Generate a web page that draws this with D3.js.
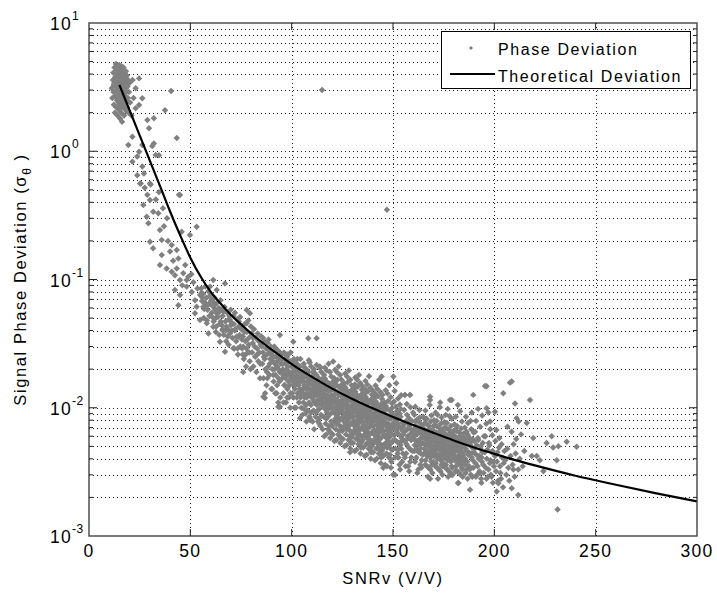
<!DOCTYPE html>
<html><head><meta charset="utf-8">
<script src="https://cdn.jsdelivr.net/npm/d3@7"></script>
<style>body{margin:0;background:#fff}text{font-family:Arial,"Liberation Sans",Helvetica,sans-serif;fill:#000}</style>
</head><body><svg id="chart" width="717" height="594"></svg>
<script>
// ---------- axes / labels ----------
const xTicks=[0,50,100,150,200,250,300];
const yDecades=[1e-3,1e-2,1e-1,1,10];
const yExponents=["-3","-2","-1","0","1"];
const xTitle="SNRv (V/V)";
const yTitleMain="Signal Phase Deviation (σ";
const yTitleSub="θ";
const legendNames=["Phase Deviation","Theoretical Deviation"];

// ---------- theoretical deviation curve ----------
const theorySnr=[15,20,25,30,35,40,45,50,55,60,65,70,75,80,85,90,100,110,120,130,140,150,160,170,180,190,200,210,220,240,260,280,300];
const theoryDev=[3.29,2.09,1.33,0.845,0.537,0.339,0.221,0.148,0.106,0.0803,0.0646,0.0531,0.0447,0.038,0.0327,0.0285,0.0219,0.0174,0.0141,0.0117,0.00989,0.00847,0.00733,0.00637,0.00556,0.0049,0.00437,0.00392,0.00355,0.00295,0.00251,0.00215,0.00186];

// ---------- measured phase deviation (SNR, sigma) ----------
const clusterPts=[[11.2,3.1],[11.5,2.6],[11.8,3.6],[12.0,4.1],[12.1,2.9],[12.3,2.3],[12.5,3.4],[12.6,4.5],[12.8,2.0],[13.0,3.8],[13.1,2.7],[13.3,4.8],[13.4,3.2],[13.5,2.2],[13.7,4.3],[13.8,2.5],[14.0,3.5],[14.1,1.9],[14.2,2.9],[14.3,4.0],[14.5,3.2],[14.6,2.4],[14.7,4.6],[14.8,2.1],[14.9,3.7],[15.0,2.7],[15.1,4.2],[15.2,3.0],[15.3,1.8],[15.4,2.3],[15.5,3.9],[15.6,3.4],[15.7,2.6],[15.8,4.4],[15.9,2.0],[16.0,3.1],[16.1,3.6],[16.2,2.8],[16.3,1.7],[16.4,4.1],[16.5,2.4],[16.6,3.3],[16.7,2.2],[16.8,3.8],[16.9,2.9],[17.0,4.5],[17.1,2.6],[17.2,3.5],[17.3,1.9],[17.4,3.0],[17.5,4.0],[17.6,2.3],[17.7,3.3],[17.8,2.7],[17.9,3.7],[18.0,2.1],[18.1,3.1],[18.2,4.2],[18.3,2.5],[18.4,3.4],[18.5,2.9],[18.7,3.9],[18.8,2.2],[19.0,3.2],[19.2,2.6],[19.3,3.6],[19.5,2.0],[19.7,2.9],[20.0,3.4],[20.3,2.4],[12.2,3.3],[13.6,3.0],[14.4,2.6],[15.2,3.5],[16.6,2.5],[17.4,2.8],[14.9,4.7],[16.0,4.6],[13.9,4.4],[12.9,3.5],[15.6,2.2],[17.9,2.4],[21.5,3.6],[23.0,3.1],[24.7,3.7],[22.0,2.6],[23.0,2.16],[21.0,1.9]];
const transitionPts=[[19.4,1.12],[21.4,1.30],[21.4,0.83],[23.8,0.91],[23.8,0.65],[24.7,2.29],[24.7,0.99],[25.5,0.56],[25.2,0.56],[26.3,2.59],[26.3,1.12],[26.3,0.76],[26.8,0.381],[27.1,0.67],[28.5,0.309],[28.8,1.75],[28.8,0.457],[29.3,0.274],[29.6,1.51],[30.1,0.56],[30.1,0.417],[30.1,0.197],[30.4,0.55],[31.2,1.10],[31.6,0.175],[31.7,0.338],[32,1.81],[32,1.15],[32.9,0.935],[34.2,0.328],[34.5,0.48],[34.5,0.93],[35,0.243],[35,0.13],[35.9,0.203],[35.9,0.155],[37.5,2.09],[38.3,0.122],[40,0.165],[40.5,2.95],[40.8,0.186],[40.8,0.115],[42.4,0.108],[42.4,0.083],[43.3,1.27],[43.3,0.17],[43.3,0.122],[44.1,0.146],[44.1,0.063],[44.4,0.457],[44.9,0.456],[44.9,0.099],[44.9,0.0757],[45.7,0.236],[46.5,0.112],[48.2,0.099],[48.2,0.088],[49,0.105],[49.8,0.222],[50.7,0.080],[52.3,0.069],[52.3,0.0545],[53.1,0.258],[53.1,0.0614],[54.8,0.0757],[54.8,0.0483],[56.4,0.0614],[58.1,0.0455],[58.9,0.038],[59.7,0.088],[61.3,0.099],[61.3,0.0429],[63,0.083],[63,0.0545],[64.6,0.0327],[66.3,0.0561],[67.1,0.093],[67.1,0.0273],[67.9,0.0429],[69.6,0.0483],[71.2,0.0291],[73.7,0.0358],[76.1,0.0299],[77,0.0258],[77.8,0.0578],[77.8,0.0455],[41.5,0.14],[39,0.2],[37,0.26],[38.5,0.3],[46,0.09],[47.5,0.13],[50.5,0.11],[51.5,0.095],[53.5,0.085],[56,0.072],[57,0.066],[58.5,0.058],[60.5,0.07],[62,0.063],[62.5,0.05],[65,0.047],[66,0.04],[68.5,0.036],[70,0.044],[72,0.04],[74,0.047],[75.5,0.034],[36.5,0.36],[33,0.42],[27.5,0.52]];
const body55to80=[[55.3,0.085],[55.8,0.068],[56.3,0.077],[56.9,0.059],[57.4,0.088],[57.9,0.072],[58.4,0.063],[58.9,0.081],[59.4,0.052],[59.8,0.075],[60.2,0.068],[60.6,0.055],[61.0,0.062],[61.5,0.047],[61.9,0.072],[62.3,0.058],[62.8,0.043],[63.2,0.066],[63.6,0.051],[64.1,0.060],[64.5,0.045],[64.9,0.069],[65.2,0.058],[65.6,0.044],[66.0,0.052],[66.5,0.037],[66.9,0.061],[67.3,0.047],[67.7,0.033],[68.2,0.055],[68.6,0.041],[69.0,0.049],[69.5,0.038],[69.9,0.058],[70.3,0.046],[70.8,0.035],[71.3,0.052],[71.7,0.029],[72.2,0.041],[72.6,0.033],[73.1,0.049],[73.5,0.026],[73.9,0.043],[74.3,0.037],[74.7,0.030],[72.0,0.055],[75.2,0.041],[75.6,0.029],[76.0,0.036],[76.4,0.024],[76.8,0.045],[77.2,0.033],[77.5,0.021],[77.9,0.039],[78.3,0.027],[78.6,0.048],[78.9,0.031],[79.3,0.023],[79.6,0.036],[79.9,0.043],[76.1,0.019],[55.6,0.079],[56.6,0.05],[57.2,0.066],[58.2,0.048],[59.1,0.064],[60.8,0.051],[61.7,0.066],[62.6,0.039],[63.9,0.055],[64.3,0.037],[65.9,0.041],[66.7,0.057],[67.5,0.04],[68.9,0.031],[69.3,0.052],[70.6,0.04],[71.5,0.045],[72.9,0.036],[73.3,0.029],[74.5,0.051],[75.9,0.026],[76.6,0.039],[77.7,0.029],[78.1,0.034],[79.1,0.027],[79.7,0.02]];
const body80to105=[[80.2,0.038],[80.5,0.027],[80.8,0.032],[81.1,0.021],[81.4,0.041],[81.7,0.030],[82.0,0.025],[82.3,0.035],[82.6,0.019],[82.9,0.029],[83.2,0.038],[83.5,0.023],[83.8,0.033],[84.1,0.027],[84.4,0.017],[84.7,0.031],[85.0,0.036],[81.0,0.035],[83.0,0.026],[84.5,0.022],[85.2,0.030],[85.5,0.022],[85.8,0.027],[86.1,0.017],[86.4,0.033],[86.7,0.024],[87.0,0.020],[87.3,0.029],[87.6,0.015],[87.9,0.026],[88.2,0.032],[88.5,0.021],[88.8,0.028],[89.1,0.018],[89.4,0.024],[89.7,0.030],[90.0,0.014],[85.9,0.035],[86.9,0.013],[87.8,0.019],[88.6,0.034],[89.2,0.022],[89.9,0.026],[86.3,0.025],[88.0,0.017],[90.2,0.027],[90.5,0.020],[90.8,0.023],[91.1,0.016],[91.4,0.030],[91.7,0.022],[92.0,0.018],[92.3,0.025],[92.6,0.013],[92.9,0.021],[93.2,0.028],[93.5,0.017],[93.8,0.024],[94.1,0.019],[94.4,0.012],[94.7,0.022],[95.0,0.026],[90.4,0.014],[91.3,0.025],[92.1,0.029],[92.8,0.015],[93.6,0.020],[94.3,0.027],[90.9,0.018],[91.9,0.013],[93.0,0.023],[94.0,0.016],[94.9,0.019],[91.6,0.020],[93.4,0.011],[95.2,0.024],[95.4,0.017],[95.7,0.020],[95.9,0.013],[96.2,0.027],[96.4,0.019],[96.7,0.015],[96.9,0.022],[97.2,0.011],[97.4,0.018],[97.7,0.025],[97.9,0.014],[98.2,0.021],[98.4,0.016],[98.7,0.012],[98.9,0.019],[99.2,0.023],[99.4,0.013],[99.7,0.017],[99.9,0.021],[95.5,0.022],[96.0,0.011],[96.6,0.024],[97.0,0.017],[97.5,0.020],[98.0,0.026],[98.5,0.023],[99.0,0.015],[99.5,0.027],[96.3,0.015],[97.8,0.012],[99.3,0.010],[95.8,0.018],[98.8,0.018],[97.1,0.026],[100.1,0.021],[100.4,0.016],[100.6,0.019],[100.9,0.012],[101.1,0.024],[101.4,0.017],[101.6,0.014],[101.9,0.020],[102.1,0.010],[102.4,0.016],[102.6,0.022],[102.9,0.013],[103.1,0.018],[103.4,0.015],[103.6,0.011],[103.9,0.017],[104.1,0.021],[104.4,0.012],[104.6,0.016],[104.9,0.019],[100.3,0.013],[100.8,0.023],[101.3,0.010],[101.8,0.015],[102.3,0.019],[102.8,0.024],[103.3,0.021],[103.8,0.013],[104.3,0.024],[104.8,0.010],[100.5,0.018],[101.0,0.015],[101.5,0.021],[102.0,0.017],[102.5,0.012],[103.0,0.016],[103.5,0.019],[104.0,0.014],[104.5,0.018],[105.0,0.013]];
const body105to130=[[105.2,0.019],[105.4,0.014],[105.6,0.017],[105.8,0.011],[106.0,0.022],[106.2,0.015],[106.4,0.012],[106.6,0.018],[106.8,0.009],[107.0,0.014],[107.2,0.020],[107.4,0.012],[107.6,0.016],[107.8,0.013],[108.0,0.0095],[108.2,0.015],[108.4,0.019],[108.6,0.011],[108.8,0.014],[109.0,0.017],[109.2,0.008],[109.4,0.013],[109.6,0.021],[109.8,0.016],[105.3,0.0088],[105.9,0.016],[106.5,0.0205],[107.1,0.0105],[107.7,0.018],[108.3,0.0125],[108.9,0.0225],[109.5,0.0105],[105.7,0.013],[106.3,0.0175],[106.9,0.0125],[107.5,0.0145],[108.1,0.017],[108.7,0.0085],[109.3,0.0155],[109.9,0.012],[106.1,0.0098],[107.3,0.0078],[108.5,0.0235],[109.7,0.0092],[110.0,0.0175],[110.2,0.017],[110.4,0.012],[110.6,0.015],[110.8,0.0095],[111.0,0.020],[111.2,0.013],[111.4,0.011],[111.6,0.016],[111.8,0.0085],[112.0,0.0125],[112.2,0.018],[112.4,0.0105],[112.6,0.014],[112.8,0.0115],[113.0,0.0078],[113.2,0.0135],[113.4,0.017],[113.6,0.0098],[113.8,0.0125],[114.0,0.015],[114.2,0.0072],[114.4,0.0115],[114.6,0.019],[114.8,0.014],[110.3,0.0078],[110.9,0.0145],[111.5,0.0185],[112.1,0.0092],[112.7,0.016],[113.3,0.011],[113.9,0.021],[114.5,0.0088],[110.7,0.0115],[111.3,0.0155],[111.9,0.011],[112.5,0.0128],[113.1,0.015],[113.7,0.0075],[114.3,0.0138],[114.9,0.0105],[110.1,0.0135],[111.1,0.0068],[112.3,0.0215],[113.5,0.0082],[114.7,0.0162],[110.5,0.019],[111.7,0.0138],[112.9,0.0095],[114.1,0.0118],[115.0,0.0128],[115.2,0.015],[115.4,0.011],[115.6,0.013],[115.8,0.0085],[116.0,0.018],[116.2,0.012],[116.4,0.0098],[116.6,0.0145],[116.8,0.0075],[117.0,0.011],[117.2,0.016],[117.4,0.0092],[117.6,0.0125],[117.8,0.0105],[118.0,0.0068],[118.2,0.012],[118.4,0.0155],[118.6,0.0088],[118.8,0.011],[119.0,0.0135],[119.2,0.0064],[119.4,0.0102],[119.6,0.0175],[119.8,0.0125],[115.3,0.0068],[115.9,0.013],[116.5,0.0168],[117.1,0.0082],[117.7,0.0142],[118.3,0.0098],[118.9,0.019],[119.5,0.0078],[115.7,0.0102],[116.3,0.0138],[116.9,0.0098],[117.5,0.0115],[118.1,0.0135],[118.7,0.0066],[119.3,0.0122],[119.9,0.0092],[115.1,0.012],[116.1,0.006],[117.3,0.0195],[118.5,0.0072],[119.7,0.0148],[115.5,0.017],[116.7,0.0122],[117.9,0.0085],[119.1,0.0105],[120.0,0.0115],[116.4,0.0205],[118.2,0.022],[117.0,0.0062],[119.0,0.0058],[115.8,0.0155],[120.2,0.014],[120.4,0.010],[120.6,0.012],[120.8,0.0078],[121.0,0.017],[121.2,0.011],[121.4,0.009],[121.6,0.0135],[121.8,0.0068],[122.0,0.0102],[122.2,0.015],[122.4,0.0085],[122.6,0.0115],[122.8,0.0097],[123.0,0.0062],[123.2,0.011],[123.4,0.0145],[123.6,0.008],[123.8,0.0102],[124.0,0.0125],[124.2,0.0058],[124.4,0.0094],[124.6,0.0165],[124.8,0.0115],[120.3,0.0062],[120.9,0.012],[121.5,0.0158],[122.1,0.0075],[122.7,0.0132],[123.3,0.009],[123.9,0.018],[124.5,0.0071],[120.7,0.0094],[121.3,0.0128],[121.9,0.009],[122.5,0.0106],[123.1,0.0125],[123.7,0.006],[124.3,0.0112],[124.9,0.0084],[120.1,0.011],[121.1,0.0055],[122.3,0.019],[123.5,0.0066],[124.7,0.0138],[120.5,0.016],[121.7,0.0112],[122.9,0.0078],[124.1,0.0097],[125.0,0.0105],[121.4,0.0198],[123.2,0.021],[122.0,0.0056],[124.0,0.0053],[120.8,0.0145],[122.6,0.0165],[123.8,0.0072],[121.6,0.0082],[124.4,0.015],[120.0,0.0072],[125.2,0.0125],[125.4,0.0092],[125.6,0.011],[125.8,0.0071],[126.0,0.0155],[126.2,0.0102],[126.4,0.0082],[126.6,0.0123],[126.8,0.0062],[127.0,0.0093],[127.2,0.0137],[127.4,0.0077],[127.6,0.0105],[127.8,0.0088],[128.0,0.0056],[128.2,0.01],[128.4,0.0132],[128.6,0.0073],[128.8,0.0093],[129.0,0.0114],[129.2,0.0053],[129.4,0.0086],[129.6,0.015],[129.8,0.0105],[125.3,0.0057],[125.9,0.011],[126.5,0.0144],[127.1,0.0068],[127.7,0.012],[128.3,0.0082],[128.9,0.0165],[129.5,0.0065],[125.7,0.0086],[126.3,0.0117],[126.9,0.0082],[127.5,0.0097],[128.1,0.0114],[128.7,0.0055],[129.3,0.0102],[129.9,0.0077],[125.1,0.01],[126.1,0.005],[127.3,0.0175],[128.5,0.006],[129.7,0.0126],[125.5,0.0146],[126.7,0.0102],[127.9,0.0071],[129.1,0.0088],[130.0,0.0096],[126.4,0.0185],[128.2,0.0195],[127.0,0.0051],[129.0,0.0048],[125.8,0.0132],[127.6,0.0158],[128.8,0.0066],[126.6,0.0075],[129.4,0.0137],[125.0,0.0066],[126.9,0.0108],[128.4,0.0089],[129.6,0.0059],[127.8,0.0128],[125.6,0.0079]];
const body130to155=[[130.2,0.0115],[130.4,0.0085],[130.6,0.0101],[130.8,0.0066],[131.0,0.0142],[131.2,0.0094],[131.4,0.0076],[131.6,0.0113],[131.8,0.0057],[132.0,0.0086],[132.2,0.0126],[132.4,0.0071],[132.6,0.0097],[132.8,0.0081],[133.0,0.0052],[133.2,0.0092],[133.4,0.0122],[133.6,0.0067],[133.8,0.0086],[134.0,0.0105],[134.2,0.0049],[134.4,0.0079],[134.6,0.0138],[134.8,0.0097],[130.3,0.0053],[130.9,0.0101],[131.5,0.0133],[132.1,0.0063],[132.7,0.011],[133.3,0.0076],[133.9,0.0155],[134.5,0.006],[130.7,0.0079],[131.3,0.0108],[131.9,0.0076],[132.5,0.0089],[133.1,0.0105],[133.7,0.0051],[134.3,0.0094],[134.9,0.0071],[130.1,0.0092],[131.1,0.0046],[132.3,0.0165],[133.5,0.0055],[134.7,0.0116],[130.5,0.0135],[131.7,0.0094],[132.9,0.0066],[134.1,0.0081],[135.0,0.0088],[131.4,0.0172],[133.2,0.018],[132.0,0.0047],[134.0,0.0044],[130.8,0.0122],[132.6,0.0146],[133.8,0.0061],[131.6,0.0069],[134.4,0.0127],[130.0,0.0061],[131.9,0.01],[133.4,0.0082],[134.6,0.0054],[132.8,0.0118],[130.6,0.0073],[131.2,0.0152],[132.4,0.0058],[133.6,0.0098],[134.8,0.0148],[130.4,0.0104],[135.2,0.0106],[135.4,0.0078],[135.6,0.0093],[135.8,0.0061],[136.0,0.013],[136.2,0.0086],[136.4,0.007],[136.6,0.0104],[136.8,0.0052],[137.0,0.0079],[137.2,0.0116],[137.4,0.0065],[137.6,0.0089],[137.8,0.0075],[138.0,0.0048],[138.2,0.0085],[138.4,0.0112],[138.6,0.0062],[138.8,0.0079],[139.0,0.0097],[139.2,0.0045],[139.4,0.0073],[139.6,0.0127],[139.8,0.0089],[135.3,0.0049],[135.9,0.0093],[136.5,0.0122],[137.1,0.0058],[137.7,0.0101],[138.3,0.007],[138.9,0.0143],[139.5,0.0055],[135.7,0.0073],[136.3,0.0099],[136.9,0.007],[137.5,0.0082],[138.1,0.0097],[138.7,0.0047],[139.3,0.0086],[139.9,0.0065],[135.1,0.0085],[136.1,0.0042],[137.3,0.0152],[138.5,0.0051],[139.7,0.0107],[135.5,0.0124],[136.7,0.0086],[137.9,0.0061],[139.1,0.0075],[140.0,0.0081],[136.4,0.0162],[138.2,0.0176],[137.0,0.0043],[139.0,0.004],[135.8,0.0112],[137.6,0.0134],[138.8,0.0056],[136.6,0.0063],[139.4,0.0117],[135.0,0.0056],[136.9,0.0092],[138.4,0.0075],[139.6,0.005],[137.8,0.0109],[135.6,0.0067],[136.2,0.014],[137.4,0.0053],[138.6,0.009],[139.8,0.0137],[135.4,0.0096],[140.2,0.0098],[140.4,0.0072],[140.6,0.0086],[140.8,0.0056],[141.0,0.012],[141.2,0.0079],[141.4,0.0064],[141.6,0.0096],[141.8,0.0048],[142.0,0.0073],[142.2,0.0107],[142.4,0.006],[142.6,0.0082],[142.8,0.0069],[143.0,0.0044],[143.2,0.0078],[143.4,0.0103],[143.6,0.0057],[143.8,0.0073],[144.0,0.0089],[144.2,0.0041],[144.4,0.0067],[144.6,0.0117],[144.8,0.0082],[140.3,0.0045],[140.9,0.0086],[141.5,0.0112],[142.1,0.0053],[142.7,0.0093],[143.3,0.0064],[143.9,0.0132],[144.5,0.0051],[140.7,0.0067],[141.3,0.0091],[141.9,0.0064],[142.5,0.0075],[143.1,0.0089],[143.7,0.0043],[144.3,0.0079],[144.9,0.006],[140.1,0.0078],[141.1,0.0039],[142.3,0.014],[143.5,0.0047],[144.7,0.0098],[140.5,0.0114],[141.7,0.0079],[142.9,0.0056],[144.1,0.0069],[145.0,0.0075],[141.4,0.0149],[143.2,0.0165],[142.0,0.004],[144.0,0.0037],[140.8,0.0103],[142.6,0.0123],[143.8,0.0052],[141.6,0.0058],[144.4,0.0108],[140.0,0.0052],[141.9,0.0085],[143.4,0.0069],[144.6,0.0046],[142.8,0.01],[140.6,0.0062],[141.2,0.0129],[142.4,0.0049],[143.6,0.0083],[144.8,0.0126],[140.4,0.0088],[145.2,0.009],[145.4,0.0066],[145.6,0.0079],[145.8,0.0052],[146.0,0.011],[146.2,0.0073],[146.4,0.0059],[146.6,0.0088],[146.8,0.0044],[147.0,0.0067],[147.2,0.0098],[147.4,0.0055],[147.6,0.0075],[147.8,0.0063],[148.0,0.0041],[148.2,0.0072],[148.4,0.0095],[148.6,0.0052],[148.8,0.0067],[149.0,0.0082],[149.2,0.0038],[149.4,0.0062],[149.6,0.0108],[149.8,0.0075],[145.3,0.0042],[145.9,0.0079],[146.5,0.0103],[147.1,0.0049],[147.7,0.0086],[148.3,0.0059],[148.9,0.0121],[149.5,0.0047],[145.7,0.0062],[146.3,0.0084],[146.9,0.0059],[147.5,0.0069],[148.1,0.0082],[148.7,0.004],[149.3,0.0073],[149.9,0.0055],[145.1,0.0072],[146.1,0.0036],[147.3,0.0129],[148.5,0.0043],[149.7,0.009],[145.5,0.0105],[146.7,0.0073],[147.9,0.0052],[149.1,0.0063],[150.0,0.0069],[146.4,0.0137],[148.2,0.015],[147.0,0.0035],[149.0,0.0034],[145.8,0.0095],[147.6,0.0113],[148.8,0.0048],[146.6,0.0053],[149.4,0.0099],[145.0,0.0048],[150.3,0.0083],[150.6,0.0061],[150.9,0.0073],[151.2,0.0048],[151.5,0.0102],[151.8,0.0067],[152.1,0.0054],[152.4,0.0081],[152.7,0.0041],[153.0,0.0062],[153.3,0.009],[153.6,0.0051],[153.9,0.0069],[154.2,0.0058],[154.5,0.0038],[154.8,0.0066],[150.1,0.003],[150.5,0.0112],[151.0,0.0056],[151.4,0.0079],[151.9,0.0094],[152.3,0.0044],[152.8,0.0072],[153.2,0.0036],[153.7,0.0085],[154.1,0.0048],[154.6,0.0076],[150.8,0.0135],[151.6,0.0155],[152.5,0.0118],[153.4,0.0106],[150.2,0.0175],[151.1,0.0041],[152.0,0.0064],[152.9,0.0053],[153.8,0.0098],[154.4,0.0055],[155.0,0.0071],[151.3,0.0087],[152.6,0.0047],[154.0,0.0125],[150.7,0.0069],[153.5,0.0033],[154.9,0.0044],[152.2,0.0076]];
const lobe155to180=[[155.3,0.0074],[155.7,0.0055],[156.1,0.0066],[156.5,0.0044],[156.9,0.0088],[157.3,0.006],[157.7,0.0049],[158.1,0.0072],[158.5,0.0038],[158.9,0.0056],[159.3,0.0079],[159.7,0.0046],[155.5,0.0096],[155.9,0.0041],[156.3,0.0078],[156.7,0.0052],[157.1,0.0068],[157.5,0.0035],[157.9,0.0083],[158.3,0.0062],[158.7,0.0047],[159.1,0.0067],[159.5,0.0058],[159.9,0.0092],[155.9,0.0126],[158.4,0.0126],[156.8,0.0107],[158.0,0.0032],[159.0,0.0041],[155.1,0.0062],[157.0,0.0057],[158.6,0.0101],[159.8,0.0064],[156.2,0.0035],[157.6,0.0075],[160.3,0.0068],[160.7,0.0051],[161.1,0.0061],[161.5,0.0041],[161.9,0.0081],[162.3,0.0055],[162.7,0.0045],[163.1,0.0066],[163.5,0.0036],[163.9,0.0052],[164.3,0.0073],[164.7,0.0043],[160.5,0.0088],[160.9,0.0038],[161.3,0.0072],[161.7,0.0048],[162.1,0.0063],[162.5,0.0033],[162.9,0.0077],[163.3,0.0057],[163.7,0.0044],[164.1,0.0062],[164.5,0.0053],[164.9,0.0085],[161.0,0.0102],[163.0,0.0096],[162.0,0.0031],[164.0,0.0034],[160.1,0.0057],[161.8,0.0065],[163.6,0.0048],[164.8,0.0059],[160.6,0.0046],[162.4,0.0069],[164.2,0.0039],[161.4,0.0055],[163.2,0.0084],[165.0,0.0066],[162.8,0.0052],[160.9,0.0078],[165.2,0.0063],[165.5,0.0048],[165.8,0.0057],[166.1,0.0039],[166.4,0.0075],[166.7,0.0052],[167.0,0.0042],[167.3,0.0062],[167.6,0.0034],[167.9,0.0049],[168.2,0.0068],[168.5,0.0041],[168.8,0.0055],[169.1,0.0046],[169.4,0.0031],[169.7,0.0058],[165.3,0.0083],[165.9,0.0036],[166.5,0.0066],[167.1,0.0045],[167.7,0.0072],[168.3,0.0053],[168.9,0.0038],[169.5,0.0065],[165.6,0.0052],[166.2,0.0059],[166.8,0.0035],[167.4,0.0055],[168.0,0.0044],[168.6,0.0078],[169.2,0.0051],[169.8,0.0043],[166.0,0.0095],[168.1,0.0105],[167.2,0.0029],[169.0,0.0087],[165.4,0.0044],[166.6,0.0082],[167.8,0.0059],[169.3,0.0036],[165.1,0.0069],[166.3,0.0046],[167.5,0.0067],[168.7,0.0062],[169.9,0.0072],[165.7,0.0076],[168.4,0.0033],[166.9,0.0061],[168.3,0.0115],[169.6,0.0049],[170.2,0.006],[170.5,0.0046],[170.8,0.0054],[171.1,0.0037],[171.4,0.0072],[171.7,0.005],[172.0,0.004],[172.3,0.006],[172.6,0.0033],[172.9,0.0047],[173.2,0.0065],[173.5,0.0039],[173.8,0.0053],[174.1,0.0044],[174.4,0.003],[174.7,0.0056],[170.3,0.008],[170.9,0.0035],[171.5,0.0064],[172.1,0.0043],[172.7,0.007],[173.3,0.0051],[173.9,0.0036],[174.5,0.0063],[170.6,0.005],[171.2,0.0057],[171.8,0.0034],[172.4,0.0053],[173.0,0.0042],[173.6,0.0075],[174.2,0.0049],[174.8,0.0041],[171.0,0.0092],[173.1,0.0101],[172.2,0.0028],[174.0,0.0084],[170.4,0.0042],[171.6,0.0079],[172.8,0.0057],[174.3,0.0035],[170.1,0.0066],[171.3,0.0044],[172.5,0.0064],[173.7,0.006],[174.9,0.0069],[170.7,0.0073],[173.4,0.0032],[171.9,0.0059],[173.3,0.011],[174.6,0.0047],[175.0,0.0053],[172.0,0.0088],[170.0,0.0038],[173.8,0.0067],[171.4,0.0048],[175.2,0.0058],[175.5,0.0044],[175.8,0.0052],[176.1,0.0036],[176.4,0.0069],[176.7,0.0048],[177.0,0.0039],[177.3,0.0058],[177.6,0.0032],[177.9,0.0045],[178.2,0.0063],[178.5,0.0038],[178.8,0.0051],[179.1,0.0043],[179.4,0.003],[179.7,0.0054],[175.3,0.0077],[175.9,0.0034],[176.5,0.0061],[177.1,0.0042],[177.7,0.0067],[178.3,0.0049],[178.9,0.0035],[179.5,0.006],[175.6,0.0048],[176.2,0.0055],[176.8,0.0033],[177.4,0.0051],[178.0,0.004],[178.6,0.0072],[179.2,0.0047],[179.8,0.004],[176.0,0.0088],[178.1,0.0115],[177.2,0.0029],[179.0,0.0082],[175.4,0.0041],[176.6,0.0076],[177.8,0.0055],[179.3,0.0034],[175.1,0.0064],[176.3,0.0043],[177.5,0.0062],[178.7,0.0058],[179.9,0.0066],[175.7,0.007],[178.4,0.0031],[176.9,0.0057],[177.0,0.0098],[179.6,0.0045],[180.0,0.0051],[177.9,0.0086],[175.0,0.0037],[178.8,0.0064],[176.4,0.0046]];
const lobe180to205=[[180.2,0.0055],[180.5,0.0042],[180.8,0.0049],[181.1,0.0035],[181.4,0.0066],[181.7,0.0046],[182.0,0.0037],[182.3,0.0055],[182.6,0.0031],[182.9,0.0043],[183.2,0.006],[183.5,0.0036],[183.8,0.0049],[184.1,0.0041],[184.4,0.0029],[184.7,0.0052],[180.3,0.0074],[180.9,0.0032],[181.5,0.0058],[182.1,0.004],[182.7,0.0064],[183.3,0.0047],[183.9,0.0034],[184.5,0.0057],[180.6,0.0046],[181.2,0.0052],[181.8,0.0032],[182.4,0.0048],[183.0,0.0039],[183.6,0.0069],[184.2,0.0045],[184.8,0.0038],[181.0,0.0085],[183.1,0.0094],[182.2,0.0026],[184.0,0.0078],[180.4,0.0039],[181.6,0.0072],[182.8,0.0052],[184.3,0.0033],[180.1,0.0061],[181.3,0.0041],[182.5,0.0059],[183.7,0.0055],[184.9,0.0063],[180.7,0.0067],[183.4,0.003],[182.0,0.0105],[184.6,0.0043],[182.2,0.00258],[185.2,0.0052],[185.6,0.004],[186.0,0.0046],[186.4,0.0033],[186.8,0.0062],[187.2,0.0043],[187.6,0.0035],[188.0,0.0052],[188.4,0.003],[188.8,0.0041],[189.2,0.0057],[189.6,0.0034],[185.4,0.007],[185.8,0.0031],[186.2,0.0055],[186.6,0.0038],[187.0,0.006],[187.4,0.0045],[187.8,0.0033],[188.2,0.0054],[188.6,0.0044],[189.0,0.0049],[189.4,0.0039],[189.8,0.0064],[186.0,0.0085],[188.0,0.00229],[187.0,0.0076],[189.6,0.0126],[185.0,0.0058],[186.8,0.0028],[188.6,0.0068],[185.9,0.0048],[187.7,0.0058],[189.1,0.0029],[186.3,0.0065],[188.9,0.0092],[185.5,0.0036],[187.3,0.0052],[189.9,0.0045],[188.3,0.0079],[190.3,0.0048],[190.7,0.0037],[191.1,0.0043],[191.5,0.003],[191.9,0.0058],[192.3,0.004],[192.7,0.0032],[193.1,0.0048],[193.5,0.0028],[193.9,0.0038],[194.3,0.0053],[194.7,0.0031],[190.5,0.0065],[190.9,0.0029],[191.3,0.0051],[191.7,0.0035],[192.1,0.0056],[192.5,0.0042],[192.9,0.0031],[193.3,0.005],[193.7,0.0041],[194.1,0.0045],[194.5,0.0036],[194.9,0.006],[191.0,0.0079],[193.0,0.0071],[192.0,0.0098],[194.0,0.0087],[190.1,0.0055],[193.6,0.0026],[195.4,0.0148],[195.3,0.0045],[195.8,0.0034],[196.2,0.0147],[196.3,0.004],[196.8,0.0029],[197.3,0.0053],[197.8,0.0037],[198.3,0.003],[198.8,0.0045],[199.3,0.0026],[199.8,0.0035],[195.6,0.006],[196.1,0.0028],[196.6,0.0047],[197.1,0.0033],[197.6,0.0051],[198.1,0.0039],[198.6,0.0029],[199.1,0.0046],[199.6,0.0038],[196.0,0.0075],[198.0,0.0068],[197.0,0.0092],[199.0,0.0061],[196.2,0.0099],[197.9,0.0078],[200.3,0.0093],[200.3,0.0042],[200.8,0.0032],[201.2,0.00222],[201.3,0.0038],[201.8,0.0027],[202.0,0.00258],[202.3,0.0049],[202.8,0.0035],[203.3,0.0028],[203.8,0.0041],[204.3,0.0024],[204.4,0.013],[200.5,0.0055],[201.0,0.0067],[201.6,0.0045],[202.5,0.0058],[203.0,0.0031],[203.6,0.0052],[204.6,0.0037],[205.0,0.0046]];
const tail205to245=[[205.4,0.0039],[205.9,0.003],[206.4,0.0048],[206.9,0.0034],[207.4,0.0027],[207.7,0.0157],[208.0,0.0042],[208.6,0.00236],[208.6,0.016],[209.0,0.0036],[209.4,0.0033],[209.5,0.0052],[210.0,0.0029],[210.2,0.0108],[210.5,0.0044],[211.0,0.0083],[211.8,0.00209],[211.8,0.0033],[212.5,0.004],[213.2,0.0062],[214.0,0.0035],[214.8,0.0046],[206.5,0.0071],[208.5,0.0065],[210.8,0.0057],[212.0,0.0078],[216,0.0076],[217.6,0.0115],[218.5,0.0042],[219.2,0.0058],[220.9,0.0042],[222.5,0.0039],[224.2,0.0032],[225.8,0.0053],[228.3,0.006],[229,0.0049],[230.8,0.0039],[231.2,0.00161],[231.6,0.005],[235.7,0.00543],[240.6,0.00497]];
const outlierPts=[[115,3.0],[147,0.35],[94.2,0.0369],[108.2,0.0348],[112.3,0.0348],[100.8,0.0327],[120.5,0.0229],[114,0.0203],[79.4,0.0545],[155.9,0.0126],[158.4,0.0126],[144.4,0.0175],[168.3,0.0122],[179,0.0115],[179,0.003],[168.3,0.0028],[151,0.003],[145.2,0.0034],[128.8,0.0045],[86,0.0122],[94.2,0.0102],[86.8,0.0119],[93.4,0.0102],[104.1,0.0083],[109,0.0083]];

// ---------- drawing ----------
const M={l:89,r:697,t:23,b:536};
const svg=d3.select("#chart");
const x=d3.scaleLinear().domain([0,300]).range([M.l,M.r]);
const y=d3.scaleLog().domain([1e-3,10]).range([M.b,M.t]);

const minorVals=[];
[-3,-2,-1,0].forEach(k=>{for(let j=1;j<=9;j++){const v=j*Math.pow(10,k);if(v>1e-3&&v<10)minorVals.push(v);}});

// grid
const grid=svg.append("g").attr("stroke","#000").attr("stroke-width",1).attr("stroke-dasharray","1,3").attr("opacity",0.85);
grid.selectAll("line.h").data(minorVals).join("line").attr("class","h")
  .attr("x1",M.l).attr("x2",M.r).attr("y1",d=>Math.round(y(d))+0.5).attr("y2",d=>Math.round(y(d))+0.5);
grid.selectAll("line.v").data(xTicks.slice(1,-1)).join("line").attr("class","v")
  .attr("x1",d=>Math.round(x(d))+0.5).attr("x2",d=>Math.round(x(d))+0.5).attr("y1",M.t).attr("y2",M.b);

// scatter
const allPts=[].concat(clusterPts,transitionPts,body55to80,body80to105,body105to130,body130to155,lobe155to180,lobe180to205,tail205to245,outlierPts);
const sym=d3.symbol().type(d3.symbolSquare).size(21);
svg.append("g").attr("fill","#808080").selectAll("path").data(allPts).join("path")
  .attr("d",sym).attr("transform",d=>`translate(${x(d[0])},${y(d[1])}) rotate(45)`);

// theoretical curve
const theory=theorySnr.map((s,i)=>[s,theoryDev[i]]);
svg.append("path").datum(theory).attr("fill","none").attr("stroke","#000").attr("stroke-width",2.2)
  .attr("d",d3.line().x(d=>x(d[0])).y(d=>y(d[1])).curve(d3.curveMonotoneX));

// axes frame and ticks
svg.append("rect").attr("x",M.l).attr("y",M.t).attr("width",M.r-M.l).attr("height",M.b-M.t)
  .attr("fill","none").attr("stroke","#444").attr("stroke-width",1.4);
const tickG=svg.append("g").attr("stroke","#222").attr("stroke-width",1);
xTicks.slice(1,-1).forEach(v=>{
  tickG.append("line").attr("x1",x(v)).attr("x2",x(v)).attr("y1",M.b).attr("y2",M.b-7);
  tickG.append("line").attr("x1",x(v)).attr("x2",x(v)).attr("y1",M.t).attr("y2",M.t+7);
});
minorVals.forEach(v=>{
  const isDec=Math.abs(Math.log10(v)-Math.round(Math.log10(v)))<1e-9;
  const L=isDec?8:4;
  tickG.append("line").attr("x1",M.l).attr("x2",M.l+L).attr("y1",y(v)).attr("y2",y(v));
  tickG.append("line").attr("x1",M.r).attr("x2",M.r-L).attr("y1",y(v)).attr("y2",y(v));
});

// x tick labels
svg.append("g").selectAll("text").data(xTicks).join("text")
  .attr("x",d=>x(d)).attr("y",M.b+21).attr("text-anchor","middle")
  .style("font-size","17.5px").style("letter-spacing","1.3px").text(d=>d);

// y tick labels 10^k
const yl=svg.append("g").selectAll("text").data(yDecades).join("text")
  .attr("x",50).attr("y",d=>y(d)+7).style("font-size","17.5px").style("letter-spacing","1.3px");
yl.append("tspan").text("10");
yl.append("tspan").attr("dy",-10).style("font-size","12px").style("letter-spacing","0.5px").text((d,i)=>yExponents[i]);

// axis titles
svg.append("text").attr("x",(M.l+M.r)/2).attr("y",584).attr("text-anchor","middle")
  .style("font-size","16.5px").style("letter-spacing","1.6px").text(xTitle);
const yt=svg.append("text").attr("transform",`translate(26,${(M.t+M.b)/2}) rotate(-90)`).attr("text-anchor","middle")
  .style("font-size","16.5px").style("letter-spacing","1.6px");
yt.append("tspan").text(yTitleMain);
yt.append("tspan").attr("dy",5).style("font-size","12px").text(yTitleSub);
yt.append("tspan").attr("dy",-5).text(" )");

// legend
const lg=svg.append("g");
lg.append("rect").attr("x",441.5).attr("y",31.5).attr("width",249).attr("height",57).attr("fill","#fff").attr("stroke","#000").attr("stroke-width",1);
lg.append("path").attr("d",d3.symbol().type(d3.symbolSquare).size(8)).attr("fill","#808080").attr("transform","translate(471,48) rotate(45)");
lg.append("line").attr("x1",450).attr("x2",495).attr("y1",74).attr("y2",74).attr("stroke","#000").attr("stroke-width",2);
lg.selectAll("text").data(legendNames).join("text").attr("x",498).attr("y",(d,i)=>55+i*26.5)
  .style("font-size","16px").style("letter-spacing","1.6px").text(d=>d);
</script></body></html>
